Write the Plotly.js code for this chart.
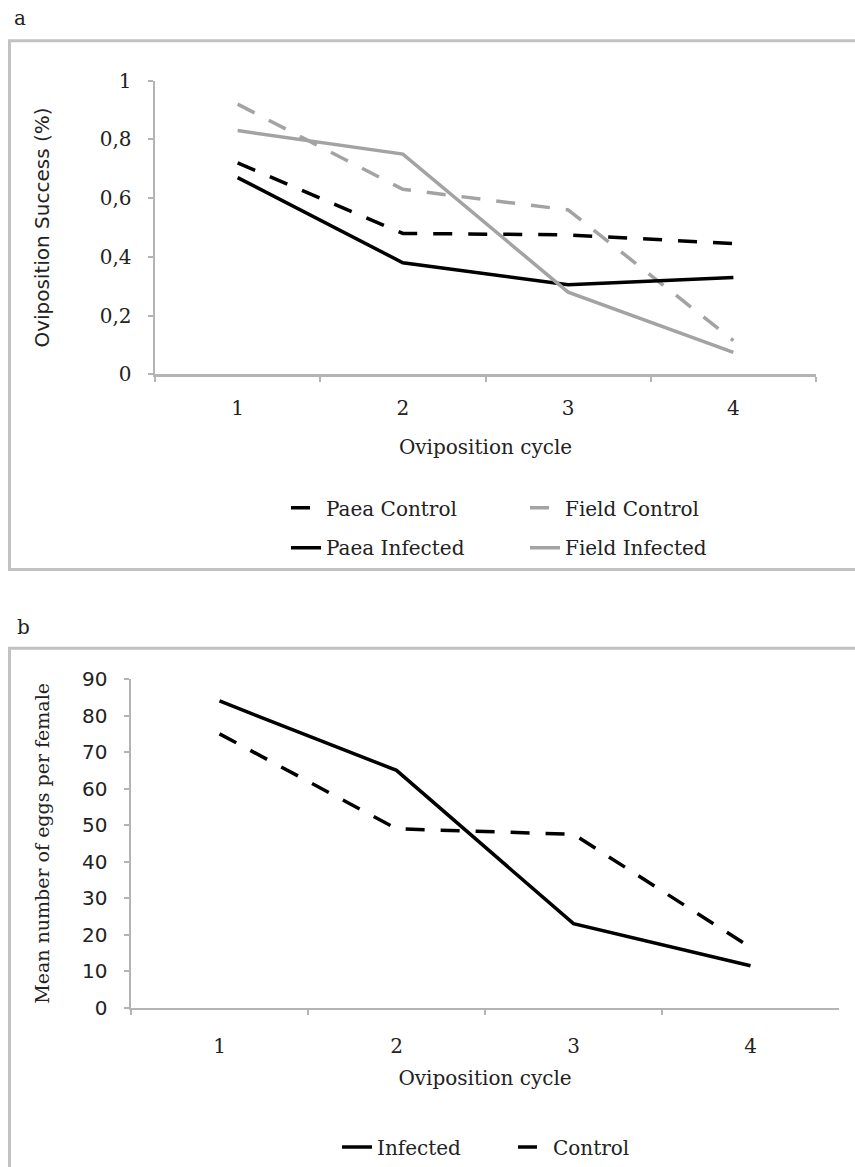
<!DOCTYPE html>
<html>
<head>
<meta charset="utf-8">
<script src="https://cdn.plot.ly/plotly-3.0.1.min.js"></script>
<style>
  html, body { margin: 0; padding: 0; background: #ffffff; }
  #chart { width: 855px; height: 1167px; }
</style>
</head>
<body>
<div id="chart"></div>
<script>
// ---- Data ----
const cycles = ['1', '2', '3', '4'];

// Panel a: Oviposition success (proportion)
const paeaControl   = [0.72, 0.48, 0.475, 0.445];
const fieldControl  = [0.92, 0.63, 0.56, 0.115];
const paeaInfected  = [0.67, 0.38, 0.305, 0.33];
const fieldInfected = [0.83, 0.75, 0.28, 0.075];

// Panel b: Mean number of eggs per female
const eggsInfected = [84, 65, 23, 11.5];
const eggsControl  = [75, 49, 47.5, 16.5];

const panelATicks = [0, 0.2, 0.4, 0.6, 0.8, 1];
const panelBTicks = [0, 10, 20, 30, 40, 50, 60, 70, 80, 90];

// ---- Styling ----
const W = 855, H = 1167;
const px = v => v / W;             // x pixel -> paper
const py = v => 1 - v / H;         // y pixel (from top) -> paper
const serif = 'DejaVu Serif';
const sans = 'DejaVu Sans';
const txt = '#222222';
const axisGray = '#b4b4b4';
const black = '#000000';
const gray = '#a3a3a3';
const dashA = '19px,16px';

const traces = [
  { x: cycles, y: paeaControl, name: 'Paea Control', type: 'scatter', mode: 'lines',
    line: { color: black, width: 3.5, dash: dashA }, xaxis: 'x', yaxis: 'y', legend: 'legend' },
  { x: cycles, y: fieldControl, name: 'Field Control', type: 'scatter', mode: 'lines',
    line: { color: gray, width: 3.5, dash: dashA }, xaxis: 'x', yaxis: 'y', legend: 'legend' },
  { x: cycles, y: paeaInfected, name: 'Paea Infected', type: 'scatter', mode: 'lines',
    line: { color: black, width: 3.5 }, xaxis: 'x', yaxis: 'y', legend: 'legend2' },
  { x: cycles, y: fieldInfected, name: 'Field Infected', type: 'scatter', mode: 'lines',
    line: { color: gray, width: 3.5 }, xaxis: 'x', yaxis: 'y', legend: 'legend2' },
  { x: cycles, y: eggsInfected, name: 'Infected', type: 'scatter', mode: 'lines',
    line: { color: black, width: 3.5 }, xaxis: 'x2', yaxis: 'y2', legend: 'legend3' },
  { x: cycles, y: eggsControl, name: 'Control', type: 'scatter', mode: 'lines',
    line: { color: black, width: 3.5, dash: dashA }, xaxis: 'x2', yaxis: 'y2', legend: 'legend3' }
];

const baseX = {
  type: 'category', range: [-0.5, 3.5], tickson: 'boundaries',
  ticks: 'outside', ticklen: 5, tickwidth: 2, tickcolor: axisGray,
  showline: true, linecolor: axisGray, linewidth: 2.5,
  showgrid: false, zeroline: false, fixedrange: true,
  tickfont: { family: serif, size: 20, color: txt },
  ticklabelstandoff: 14
};
const baseY = {
  ticks: 'outside', ticklen: 5, tickwidth: 2, tickcolor: axisGray,
  showline: true, linecolor: axisGray, linewidth: 2.5,
  showgrid: false, zeroline: false, fixedrange: true,
  ticklabelstandoff: 12
};

const legendBase = {
  orientation: 'h', xref: 'paper', yref: 'paper', xanchor: 'left', yanchor: 'middle',
  font: { family: serif, size: 20, color: txt }, bgcolor: 'rgba(0,0,0,0)',
  borderwidth: 0, itemclick: false, itemdoubleclick: false, tracegroupgap: 0,
  entrywidthmode: 'pixels'
};

const layout = {
  width: W, height: H,
  margin: { l: 0, r: 0, t: 0, b: 0, pad: 0 },
  paper_bgcolor: '#ffffff', plot_bgcolor: 'rgba(0,0,0,0)',
  separators: ',.',
  font: { family: serif, size: 20, color: txt },
  showlegend: true,
  xaxis: Object.assign({}, baseX, {
    domain: [px(155), px(816)], anchor: 'y',
    title: { text: 'Oviposition cycle', font: { family: serif, size: 20, color: txt }, standoff: 21 }
  }),
  yaxis: Object.assign({}, baseY, {
    domain: [py(376), py(81)], anchor: 'x', range: [0, 1],
    tickmode: 'array', tickvals: panelATicks,
    tickfont: { family: serif, size: 20, color: txt },
    title: { text: 'Oviposition Success (%)', font: { family: sans, size: 20, color: txt }, standoff: 45 }
  }),
  xaxis2: Object.assign({}, baseX, {
    domain: [px(131), px(839)], anchor: 'y2',
    ticklabelstandoff: 19,
    title: { text: 'Oviposition cycle', font: { family: serif, size: 20, color: txt }, standoff: 14 }
  }),
  yaxis2: Object.assign({}, baseY, {
    domain: [py(1012), py(682)], anchor: 'x2', range: [0, 90],
    tickmode: 'array', tickvals: panelBTicks,
    tickfont: { family: sans, size: 20, color: txt },
    title: { text: 'Mean number of eggs per female', font: { family: serif, size: 19, color: txt }, standoff: 28 }
  }),
  legend: Object.assign({}, legendBase, { x: px(286), y: py(510), entrywidth: 194 }),
  legend2: Object.assign({}, legendBase, { x: px(286), y: py(550), entrywidth: 194 }),
  legend3: Object.assign({}, legendBase, { x: px(337), y: py(1152), entrywidth: 131 }),
  shapes: [
    { type: 'rect', xref: 'paper', yref: 'paper', layer: 'below',
      x0: px(9.5), x1: 1.05, y0: py(572), y1: py(41),
      line: { color: '#c2c2c2', width: 3 }, fillcolor: 'rgba(0,0,0,0)' },
    { type: 'rect', xref: 'paper', yref: 'paper', layer: 'below',
      x0: px(9.5), x1: 1.05, y0: -0.05, y1: py(651),
      line: { color: '#c2c2c2', width: 3 }, fillcolor: 'rgba(0,0,0,0)' }
  ],
  annotations: [
    { text: 'a', xref: 'paper', yref: 'paper', x: px(20), y: py(18), xanchor: 'center', yanchor: 'middle',
      showarrow: false, font: { family: serif, size: 20, color: txt } },
    { text: 'b', xref: 'paper', yref: 'paper', x: px(23), y: py(630), xanchor: 'center', yanchor: 'middle',
      showarrow: false, font: { family: serif, size: 20, color: txt } }
  ]
};

Plotly.newPlot('chart', traces, layout, { staticPlot: true, displayModeBar: false });
</script>
</body>
</html>
